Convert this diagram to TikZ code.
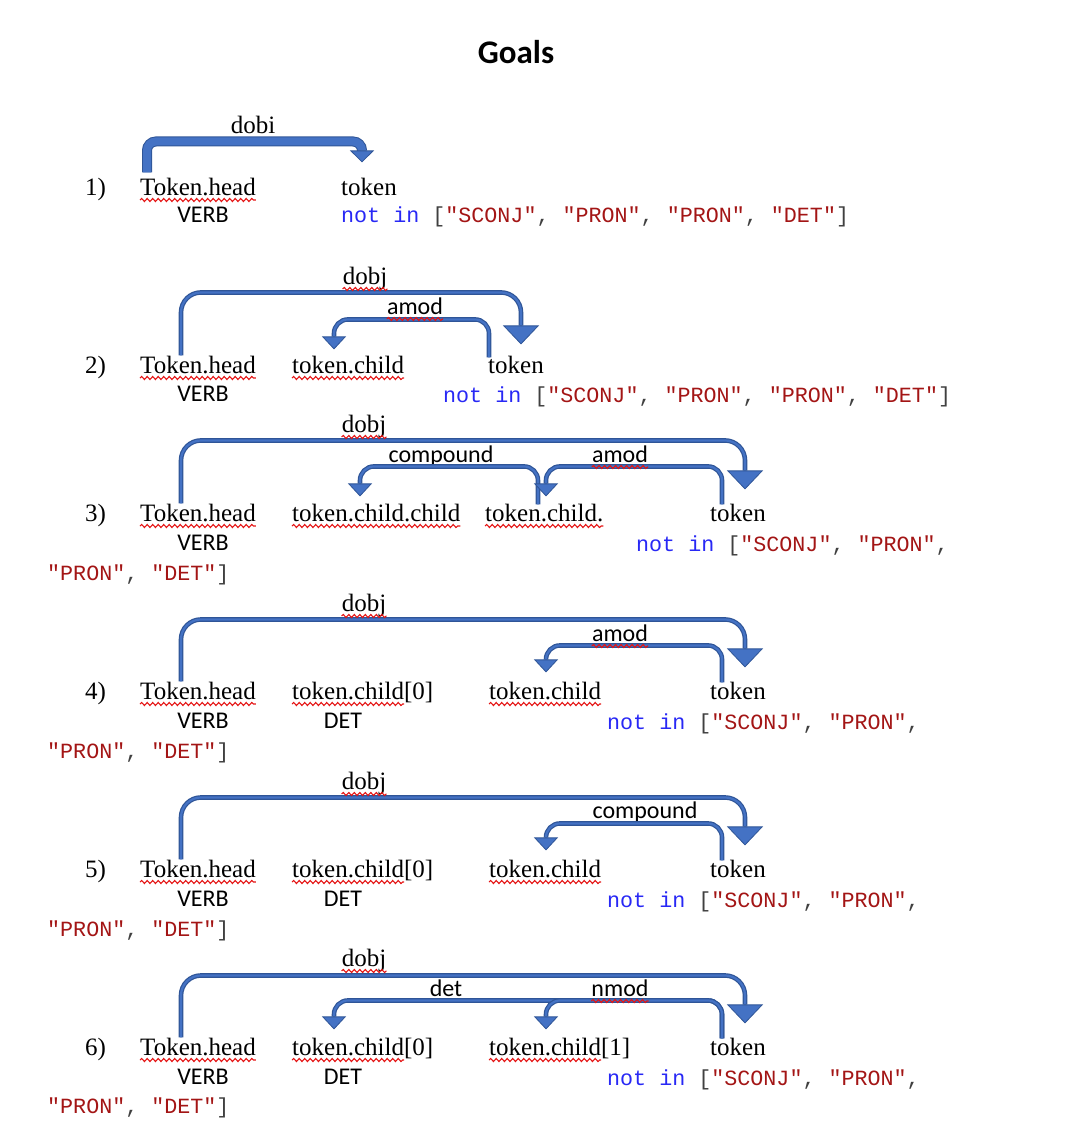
\documentclass[tikz,border=0pt]{standalone}
\usepackage{fontspec}
\setmainfont{Liberation Serif}
\setmonofont{Liberation Mono}
\newfontfamily\calibri{Carlito}
\usepackage{tikz}
\usetikzlibrary{arrows.meta, decorations.pathmorphing, positioning}
\definecolor{arcdark}{RGB}{47,85,151}
\definecolor{arcfill}{RGB}{68,114,196}
\definecolor{kwblue}{RGB}{40,40,245}
\definecolor{strred}{RGB}{163,21,21}
\definecolor{squigred}{RGB}{228,20,20}
\newcommand\kw[1]{\textcolor{kwblue}{#1}}
\newcommand\qs[1]{\textcolor{strred}{"#1"}}
\newcommand\pu[1]{\textcolor{black!75}{#1}}
\tikzset{
word/.style={inner sep=0pt, anchor=base west, font=\fontsize{25}{30}\selectfont},
lbl/.style={inner sep=0pt, anchor=base, font=\fontsize{25}{30}\selectfont},
tag/.style={inner sep=0pt, anchor=base, font=\calibri\fontsize{24}{29}\selectfont},
code/.style={inner sep=0pt, anchor=base west, font=\ttfamily\fontsize{21.7}{26}\selectfont},
band/.style={draw=arcdark, line width=1pt, double=arcfill, double distance=8pt, rounded corners=9pt,
  -{Triangle[width=24pt,length=12pt,fill=arcfill,line width=0.8pt]}},
dep/.style={draw=arcdark, line width=1.2pt, double=arcfill, double distance=2.2pt, rounded corners=20pt,
  -{Triangle[width=36pt,length=19pt,fill=arcfill,line width=0.8pt]}},
subdep/.style={dep, rounded corners=14pt, -{Triangle[width=24pt,length=13pt,fill=arcfill,line width=0.8pt]}},
squig/.style={draw=squigred, line width=1.1pt, decorate, decoration={snake, segment length=5.5pt, amplitude=1.5pt}},
}
\begin{document}
\begin{tikzpicture}[x=1pt,y=-1pt]
\useasboundingbox (0,0) rectangle (1080,1126);
\node[font=\calibri\bfseries\fontsize{33}{40}\selectfont, inner sep=0pt, anchor=base] (title) at (516,64) {Goals};

% 1)
\node[word] (n1) at (85,195) {1)};
\node[word] (hd1) at (140,195) {Token.head};
\node[tag] (pos1) at (203,222) {VERB};
\node[word] (tk1) at (341,195) {token};
\node[code] (cd1) at (341,222) {\kw{not in} \pu{[}\qs{SCONJ}\pu{,} \qs{PRON}\pu{,} \qs{PRON}\pu{,} \qs{DET}\pu{]}};
\node[lbl] (dobj1) at (253,134) {dobi};
\draw[band] ([xshift=7pt,yshift=5pt]hd1.north west) |- ([xshift=21pt,yshift=36pt]tk1.north west) -- ([xshift=21pt,yshift=15pt]tk1.north west);

% 2)
\node[word] (n2) at (85,373) {2)};
\node[word] (hd2) at (140,373) {Token.head};
\node[tag] (pos2) at (203,401) {VERB};
\node[word] (ch2) at (292,373) {token.child};
\node[word] (tk2) at (488,373) {token};
\node[code] (cd2) at (443,402) {\kw{not in} \pu{[}\qs{SCONJ}\pu{,} \qs{PRON}\pu{,} \qs{PRON}\pu{,} \qs{DET}\pu{]}};
\node[lbl] (dobj2) at (365,284) {dobj};
\node[tag] (amod2) at (415,314) {amod};
\draw[dep] ([xshift=41pt]hd2.north west) |- ([xshift=33pt,yshift=63pt]tk2.north west) -- ([xshift=33pt,yshift=11pt]tk2.north west);
\draw[subdep] ([xshift=1pt,yshift=-2pt]tk2.north west) |- ([xshift=42pt,yshift=36pt]ch2.north west) -- ([xshift=42pt,yshift=6pt]ch2.north west);

% 3)
\node[word] (n3) at (85,521) {3)};
\node[word] (hd3) at (140,521) {Token.head};
\node[tag] (pos3) at (203,550) {VERB};
\node[word] (cc3) at (292,521) {token.child.child};
\node[word] (ch3) at (485,521) {token.child.};
\node[word] (tk3) at (710,521) {token};
\node[code] (cd3) at (636,551) {\kw{not in} \pu{[}\qs{SCONJ}\pu{,} \qs{PRON}\pu{,}};
\node[code] (cx3) at (47,580) {\qs{PRON}\pu{,} \qs{DET}\pu{]}};
\node[lbl] (dobj3) at (364,432) {dobj};
\node[tag] (comp3) at (441,462) {compound};
\node[tag] (amod3) at (620,462) {amod};
\draw[dep] ([xshift=41pt]hd3.north west) |- ([xshift=35pt,yshift=63pt]tk3.north west) -- ([xshift=35pt,yshift=14pt]tk3.north west);
\draw[subdep] ([xshift=53pt,yshift=-1pt]ch3.north west) |- ([xshift=68pt,yshift=37pt]cc3.north west) -- ([xshift=68pt,yshift=7pt]cc3.north west);
\draw[subdep] ([xshift=12pt,yshift=-1pt]tk3.north west) |- ([xshift=61pt,yshift=37pt]ch3.north west) -- ([xshift=61pt,yshift=7pt]ch3.north west);

% 4)
\node[word] (n4) at (85,699) {4)};
\node[word] (hd4) at (140,699) {Token.head};
\node[tag] (pos4) at (203,728) {VERB};
\node[word] (cz4) at (292,699) {token.child[0]};
\node[tag] (dt4) at (343,728) {DET};
\node[word] (ch4) at (489,699) {token.child};
\node[word] (tk4) at (710,699) {token};
\node[code] (cd4) at (607,729) {\kw{not in} \pu{[}\qs{SCONJ}\pu{,} \qs{PRON}\pu{,}};
\node[code] (cx4) at (47,758) {\qs{PRON}\pu{,} \qs{DET}\pu{]}};
\node[lbl] (dobj4) at (364,611) {dobj};
\node[tag] (amod4) at (620,641) {amod};
\draw[dep] ([xshift=41pt]hd4.north west) |- ([xshift=35pt,yshift=62pt]tk4.north west) -- ([xshift=35pt,yshift=14pt]tk4.north west);
\draw[subdep] ([xshift=12pt,yshift=-1pt]tk4.north west) |- ([xshift=57pt,yshift=36pt]ch4.north west) -- ([xshift=57pt,yshift=9pt]ch4.north west);

% 5)
\node[word] (n5) at (85,877) {5)};
\node[word] (hd5) at (140,877) {Token.head};
\node[tag] (pos5) at (203,906) {VERB};
\node[word] (cz5) at (292,877) {token.child[0]};
\node[tag] (dt5) at (343,906) {DET};
\node[word] (ch5) at (489,877) {token.child};
\node[word] (tk5) at (710,877) {token};
\node[code] (cd5) at (607,907) {\kw{not in} \pu{[}\qs{SCONJ}\pu{,} \qs{PRON}\pu{,}};
\node[code] (cx5) at (47,936) {\qs{PRON}\pu{,} \qs{DET}\pu{]}};
\node[lbl] (dobj5) at (364,789) {dobj};
\node[tag] (comp5) at (645,818) {compound};
\draw[dep] ([xshift=41pt]hd5.north west) |- ([xshift=35pt,yshift=62pt]tk5.north west) -- ([xshift=35pt,yshift=14pt]tk5.north west);
\draw[subdep] ([xshift=12pt,yshift=-1pt]tk5.north west) |- ([xshift=57pt,yshift=36pt]ch5.north west) -- ([xshift=57pt,yshift=9pt]ch5.north west);

% 6)
\node[word] (n6) at (85,1055) {6)};
\node[word] (hd6) at (140,1055) {Token.head};
\node[tag] (pos6) at (203,1084) {VERB};
\node[word] (cz6) at (292,1055) {token.child[0]};
\node[tag] (dt6) at (343,1084) {DET};
\node[word] (co6) at (489,1055) {token.child[1]};
\node[word] (tk6) at (710,1055) {token};
\node[code] (cd6) at (607,1085) {\kw{not in} \pu{[}\qs{SCONJ}\pu{,} \qs{PRON}\pu{,}};
\node[code] (cx6) at (47,1113) {\qs{PRON}\pu{,} \qs{DET}\pu{]}};
\node[lbl] (dobj6) at (364,966) {dobj};
\node[tag] (det6) at (446,996) {det};
\node[tag] (nmod6) at (620,996) {nmod};
\draw[dep] ([xshift=41pt]hd6.north west) |- ([xshift=35pt,yshift=62pt]tk6.north west) -- ([xshift=35pt,yshift=14pt]tk6.north west);
\draw[subdep] ([xshift=12pt,yshift=-1pt]tk6.north west) |- ([xshift=42pt,yshift=37pt]cz6.north west) -- ([xshift=42pt,yshift=8pt]cz6.north west);
\draw[subdep] ([xshift=12pt,yshift=-1pt]tk6.north west) |- ([xshift=57pt,yshift=37pt]co6.north west) -- ([xshift=57pt,yshift=8pt]co6.north west);

% spell-check underlines
\foreach \n in {hd1,hd2,hd3,hd4,hd5,hd6,ch2,cc3,ch3,ch4,ch5,dobj2,dobj3,dobj4,dobj5,dobj6,amod2,amod3,amod4,nmod6}
  \draw[squig] ([yshift=-5pt]\n.base west) -- ([yshift=-5pt]\n.base east);
\foreach \n in {cz4,cz5,cz6,co6}
  \draw[squig] ([yshift=-5pt]\n.base west) -- ([xshift=112pt,yshift=-5pt]\n.base west);
\end{tikzpicture}
\end{document}
